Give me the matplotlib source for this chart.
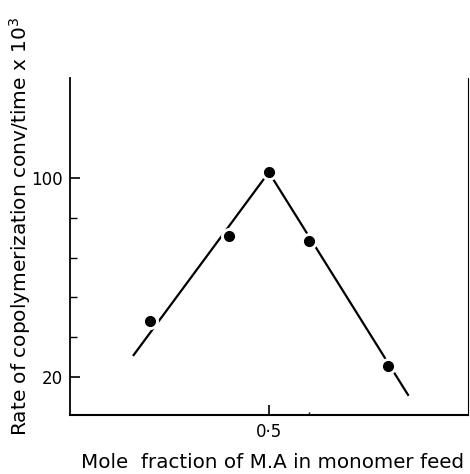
import numpy as np
import matplotlib
matplotlib.use('Agg')
import matplotlib.pyplot as plt
from matplotlib.ticker import FixedLocator, NullFormatter

# measured rates (conv/time x 10^3) vs mole fraction of M.A in feed
mole_frac = [0.2, 0.4, 0.5, 0.6, 0.8]
rate = [42.6, 76.8, 102.3, 74.8, 24.5]

# hand-drawn trend lines through the data
trend_x = [0.16, 0.5, 0.85]
trend_y = [28.8, 102.3, 12.8]

y_major = [20, 100]
y_minor = [36, 52, 68, 84]

fig = plt.figure(figsize=(4.7, 4.74), dpi=100)
ax = fig.add_axes([0.149, 0.1245, 0.846, 0.7109])

ax.plot(trend_x, trend_y, color='black', lw=1.6, zorder=2)
# white halo breaks the line around each point
ax.plot(mole_frac, rate, 'o', color='white', ms=11.2, zorder=3)
ax.plot(mole_frac, rate, 'o', color='black', ms=7, zorder=4)

ax.set_xlim(0, 1)
ax.set_ylim(4.7, 140.2)

ax.set_xticks([0.5])
ax.set_xticklabels(['0·5'])
ax.xaxis.set_minor_locator(FixedLocator([0.6]))
ax.set_yticks(y_major)
ax.set_yticklabels(['20', '100'])
ax.yaxis.set_minor_locator(FixedLocator(y_minor))
ax.yaxis.set_minor_formatter(NullFormatter())

ax.tick_params(direction='in', length=7, width=1.2, labelsize=12, pad=5)
ax.tick_params(which='minor', direction='in', length=5, width=1.0)
ax.tick_params(axis='x', pad=6)
ax.tick_params(axis='x', which='minor', length=2)

ax.spines['top'].set_visible(False)
ax.spines['left'].set_linewidth(1.3)
ax.spines['bottom'].set_linewidth(1.5)
ax.spines['right'].set_linewidth(0.8)

fig.text(0.58, 0.025, 'Mole  fraction of M.A in monomer feed',
         ha='center', va='center', fontsize=14.3)
fig.text(0.042, 0.523, 'Rate of copolymerization conv/time x 10$^3$',
         ha='center', va='center', rotation=90, fontsize=14.5)

fig.savefig('out.png', dpi=100)
